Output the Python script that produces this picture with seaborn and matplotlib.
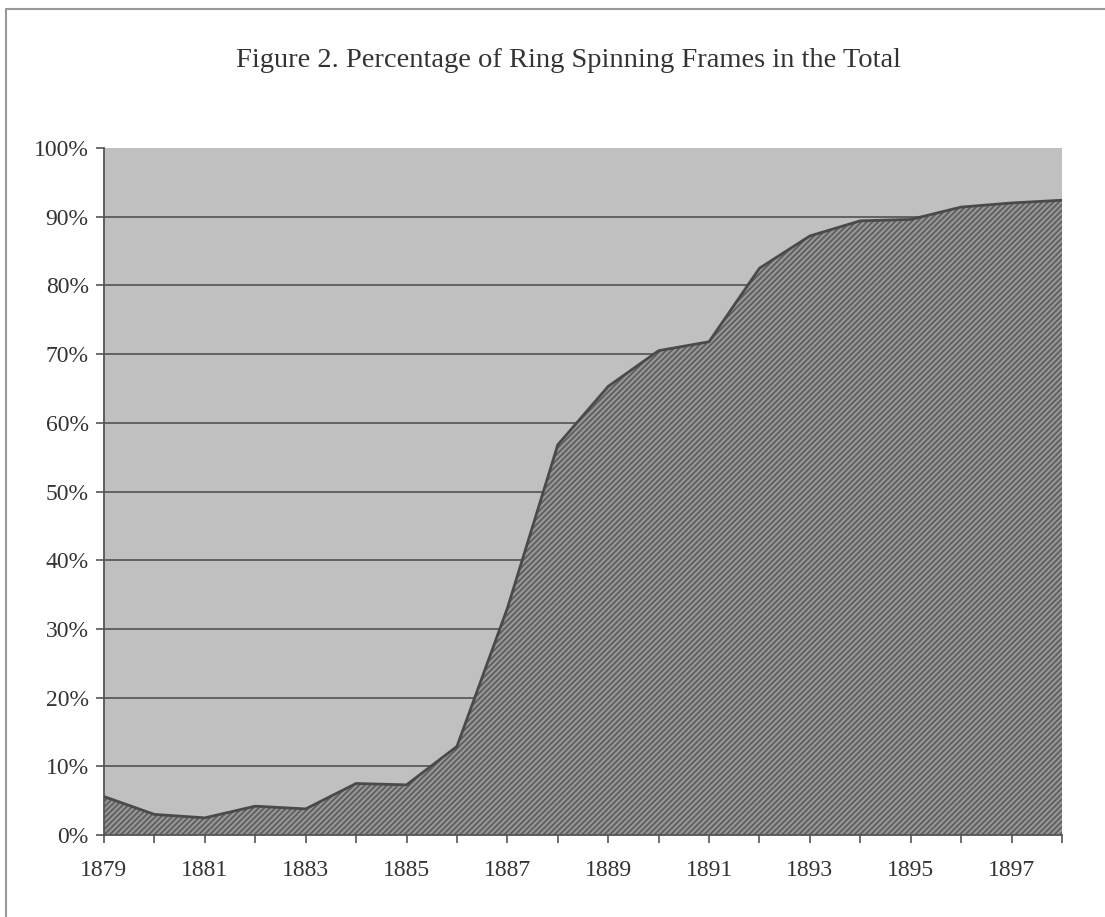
import numpy as np
import matplotlib.pyplot as plt
import pandas as pd
import seaborn as sns
from matplotlib.patches import Rectangle

# values (percent of ring frames)
years = [1879, 1880, 1881, 1882, 1883, 1884, 1885, 1886, 1887, 1888,
         1889, 1890, 1891, 1892, 1893, 1894, 1895, 1896, 1897, 1898]
ring_share = [5.6, 3.0, 2.5, 4.2, 3.8, 7.5, 7.3, 12.9, 33.0, 56.8,
              65.3, 70.5, 71.8, 82.5, 87.2, 89.4, 89.6, 91.4, 92.0, 92.4]
y_ticks = [0, 10, 20, 30, 40, 50, 60, 70, 80, 90, 100]
y_labels = [f"{v}%" for v in y_ticks]
x_labels = [str(y) if (y - 1879) % 2 == 0 else "" for y in years]

df = pd.DataFrame({"year": years, "share": ring_share})

sns.set_style("white")
plt.rcParams['font.family'] = ['Liberation Serif', 'DejaVu Serif']
plt.rcParams['hatch.color'] = '#5e5e5e'
plt.rcParams['hatch.linewidth'] = 1.3

fig = plt.figure(figsize=(11.05, 9.17), dpi=100)
ax = fig.add_axes([0.0941, 0.0894, 0.867, 0.7492])
ax.set_facecolor('#c0c0c0')

# gridlines under the area
for v in y_ticks[1:-1]:
    ax.axhline(v, color='#5a5a5a', lw=1.3, zorder=1)

ax.fill_between(df["year"], 0, df["share"], facecolor='#979797',
                hatch='//////', edgecolor='#5e5e5e', linewidth=0, zorder=2)
sns.lineplot(data=df, x="year", y="share", ax=ax, color='#4a4a4a',
             lw=2, zorder=3)

ax.set_xlim(1879, 1898)
ax.set_ylim(0, 100)
ax.set_xticks(years)
ax.set_xticklabels(x_labels)
ax.set_yticks(y_ticks)
ax.set_yticklabels(y_labels)
ax.set_xlabel("")
ax.set_ylabel("")
ax.tick_params(axis='x', direction='out', length=6, width=1.2, color='#555555',
               pad=12, labelsize=17, labelcolor='#333333', bottom=True)
ax.tick_params(axis='y', direction='out', length=6, width=1.2, color='#555555',
               pad=5, labelsize=17, labelcolor='#333333', left=True)

for side in ['top', 'right']:
    ax.spines[side].set_visible(False)
for side in ['left', 'bottom']:
    ax.spines[side].set_color('#555555')
    ax.spines[side].set_linewidth(1.3)

fig.text(0.514, 0.934, "Figure 2. Percentage of Ring Spinning Frames in the Total",
         ha='center', va='center', fontsize=20.5, color='#333333')

# page frame around the chart (cut off at right and bottom in the scan)
fig.patches.append(Rectangle((6 / 1105, -0.05), 1.1, 1.05 - 9 / 917,
                             transform=fig.transFigure, fill=False,
                             edgecolor='#999999', lw=1.5))

plt.savefig("out.png", dpi=100)
